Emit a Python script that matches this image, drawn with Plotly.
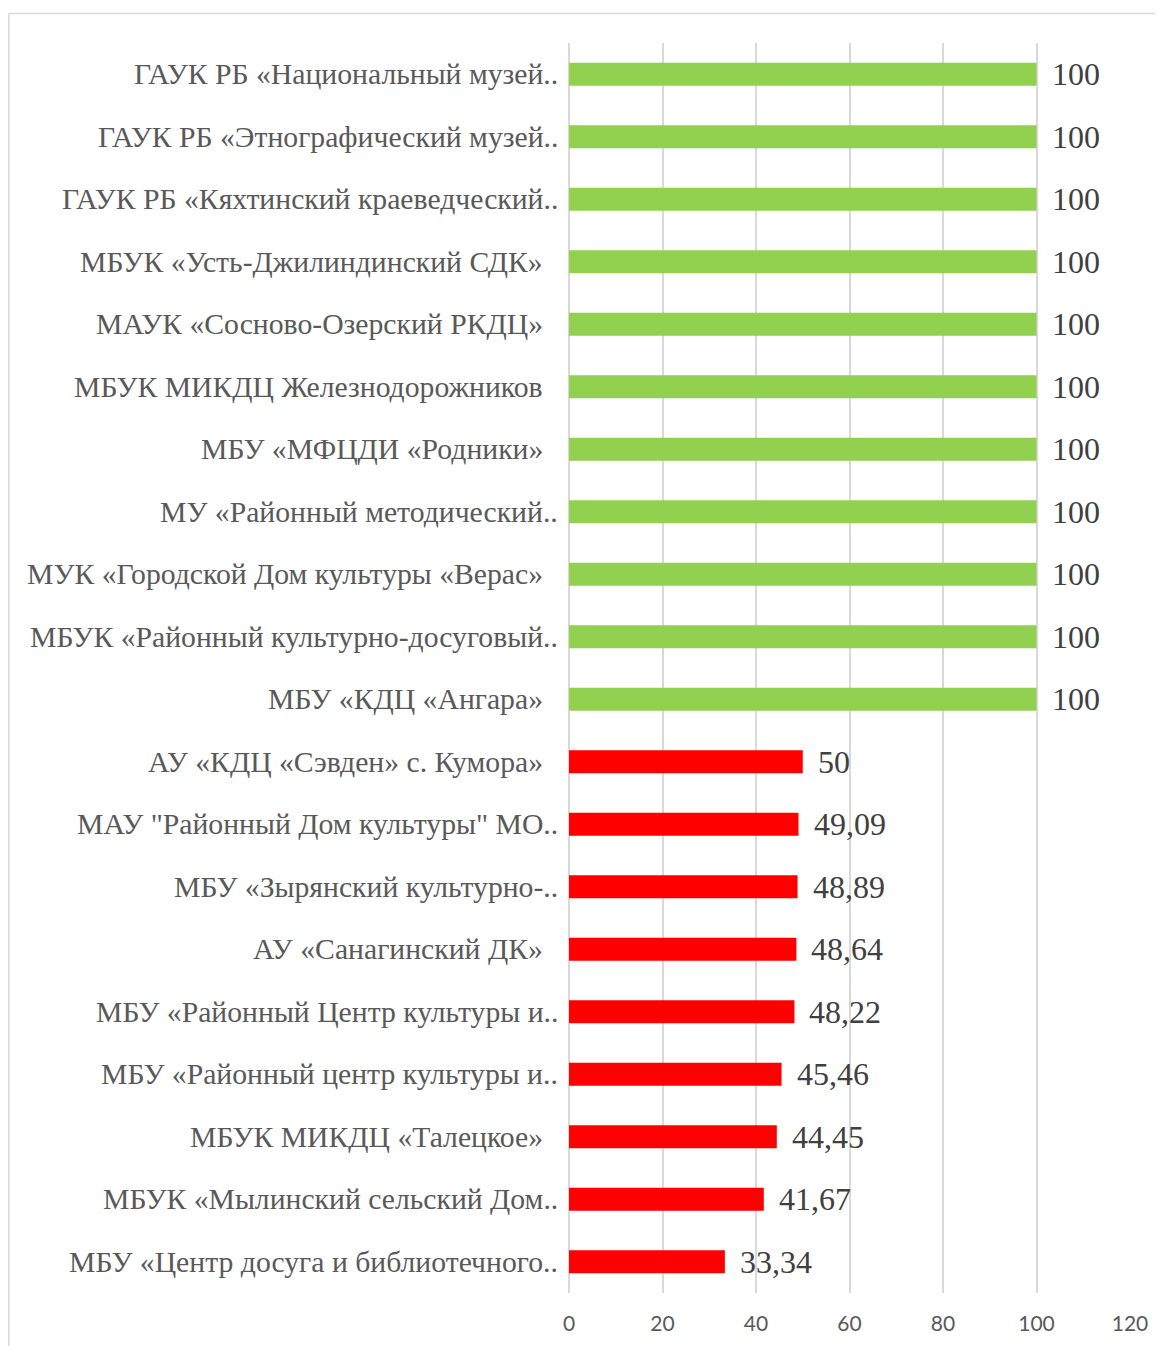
import plotly.graph_objects as go

categories = [
    "ГАУК РБ «Национальный музей..",
    "ГАУК РБ «Этнографический музей..",
    "ГАУК РБ «Кяхтинский краеведческий..",
    "МБУК «Усть-Джилиндинский СДК»",
    "МАУК «Сосново-Озерский РКДЦ»",
    "МБУК МИКДЦ Железнодорожников",
    "МБУ «МФЦДИ «Родники»",
    "МУ «Районный методический..",
    "МУК «Городской Дом культуры «Верас»",
    "МБУК «Районный культурно-досуговый..",
    "МБУ «КДЦ «Ангара»",
    "АУ «КДЦ «Сэвден» с. Кумора»",
    "МАУ \"Районный Дом культуры\" МО..",
    "МБУ «Зырянский культурно-..",
    "АУ «Санагинский ДК»",
    "МБУ «Районный Центр культуры и..",
    "МБУ «Районный центр культуры и..",
    "МБУК МИКДЦ «Талецкое»",
    "МБУК «Мылинский сельский Дом..",
    "МБУ «Центр досуга и библиотечного..",
]
values = [100, 100, 100, 100, 100, 100, 100, 100, 100, 100, 100,
          50, 49.09, 48.89, 48.64, 48.22, 45.46, 44.45, 41.67, 33.34]
value_labels = ["100"] * 11 + ["50", "49,09", "48,89", "48,64", "48,22",
                               "45,46", "44,45", "41,67", "33,34"]
x_ticks = [0, 20, 40, 60, 80, 100, 120]

GREEN = "#92D050"
RED = "#FF0000"
colors = [GREEN if v >= 100 else RED for v in values]

fig = go.Figure()
fig.add_trace(go.Bar(
    x=values, y=categories, orientation="h",
    marker=dict(color=colors, line=dict(width=0)),
    hoverinfo="skip",
))

annotations = []
for c, v, t in zip(categories, values, value_labels):
    annotations.append(dict(
        x=v, y=c, xref="x", yref="y", text=t, showarrow=False,
        xanchor="left", yanchor="middle", xshift=13, yshift=0,
        font=dict(family="Liberation Serif", size=32, color="#404040"),
    ))
    trunc = c.endswith("..")
    annotations.append(dict(
        x=0, y=c, xref="paper", yref="y", text=c, showarrow=False,
        xanchor="right", yanchor="middle", xshift=(-9 if trunc else -24),
        font=dict(family="Liberation Serif", size=29.7, color="#595959"),
    ))

# page offset of 8px (body margin); plot area target in screen px: x 569..1130, y 43..1293
W_PLOT = 561.0
H_PLOT = 1250.0
def px_to_paper_x(px):
    return (px - 569) / W_PLOT
def px_to_paper_y(py):
    return (1293 - py) / H_PLOT

shapes = [
    dict(type="line", xref="paper", yref="paper",
         x0=px_to_paper_x(8.75), x1=px_to_paper_x(1200), y0=px_to_paper_y(13.5), y1=px_to_paper_y(13.5),
         line=dict(color="#D9D9D9", width=1.5)),
    dict(type="line", xref="paper", yref="paper",
         x0=px_to_paper_x(8.75), x1=px_to_paper_x(8.75), y0=px_to_paper_y(13.5), y1=px_to_paper_y(1400),
         line=dict(color="#D9D9D9", width=1.5)),
]

fig.update_layout(
    width=1155, height=1338,
    margin=dict(l=561, r=33, t=35, b=53),
    paper_bgcolor="white", plot_bgcolor="white",
    showlegend=False,
    bargap=0.635,
    annotations=annotations,
    shapes=shapes,
    xaxis=dict(
        range=[0, 120], tickvals=x_ticks, ticktext=[str(t) for t in x_ticks],
        showgrid=True, gridcolor="#D9D9D9", gridwidth=1.5,
        zeroline=True, zerolinecolor="#D9D9D9", zerolinewidth=1.5,
        showline=False, ticks="",
        tickfont=dict(family="Lato", size=21, color="#595959"),
        ticklabelstandoff=16,
        fixedrange=True,
    ),
    yaxis=dict(
        categoryorder="array", categoryarray=categories[::-1],
        showticklabels=False, showgrid=False, zeroline=False, showline=False,
        ticks="", fixedrange=True,
    ),
)

fig.write_html("out.html")
